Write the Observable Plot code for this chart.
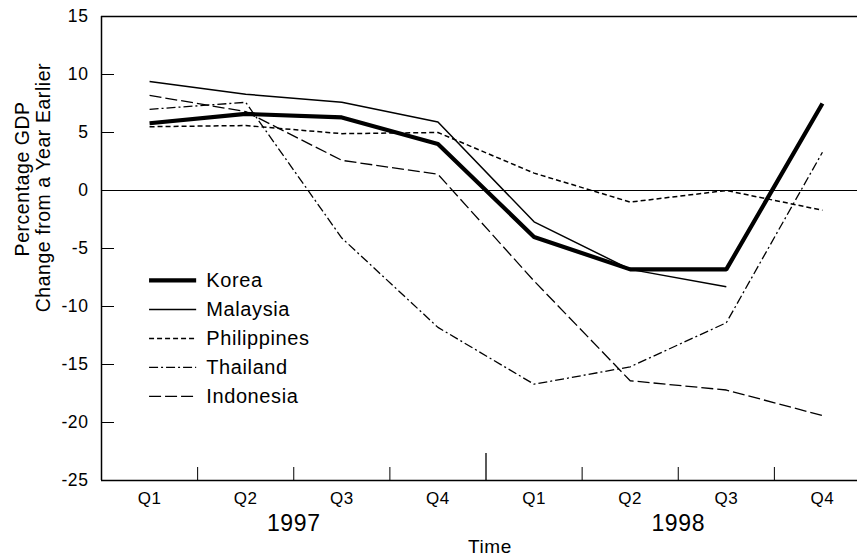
<!DOCTYPE html>
<html>
<head>
<meta charset="utf-8">
<script src="https://cdn.jsdelivr.net/npm/d3@7"></script>
<script src="https://cdn.jsdelivr.net/npm/@observablehq/plot@0.6"></script>
<style>
  html, body { margin: 0; padding: 0; background: #fff; overflow: hidden; }
  #chart svg { display: block; overflow: visible; }
  #chart text { letter-spacing: 0.6px; }
</style>
</head>
<body>
<div id="chart"></div>
<script>
// ---- data ----
const quarters = ["Q1", "Q2", "Q3", "Q4", "Q1", "Q2", "Q3", "Q4"];
const yearLabels = ["1997", "1998"];
const countries = ["Korea", "Malaysia", "Philippines", "Thailand", "Indonesia"];
const korea       = [5.8, 6.6, 6.3, 4.0, -4.0, -6.8, -6.8, 7.5];
const malaysia    = [9.4, 8.3, 7.6, 5.9, -2.7, -6.8, -8.3, null];
const philippines = [5.5, 5.6, 4.9, 5.0, 1.5, -1.0, 0.0, -1.7];
const thailand    = [7.0, 7.6, -4.1, -11.8, -16.7, -15.2, -11.4, 3.3];
const indonesia   = [8.2, 6.8, 2.6, 1.4, -7.8, -16.4, -17.2, -19.4];
const yTicks = [15, 10, 5, 0, -5, -10, -15, -20, -25];
const yTitleLines = ["Percentage GDP", "Change from a Year Earlier"];

const seriesValues = {Korea: korea, Malaysia: malaysia, Philippines: philippines, Thailand: thailand, Indonesia: indonesia};

// ---- styles ----
const styleOf = {
  Korea:       {strokeWidth: 4.2, strokeDasharray: null},
  Malaysia:    {strokeWidth: 1.5, strokeDasharray: null},
  Philippines: {strokeWidth: 1.5, strokeDasharray: "5,3"},
  Thailand:    {strokeWidth: 1.3, strokeDasharray: "9,3,2,3"},
  Indonesia:   {strokeWidth: 1.3, strokeDasharray: "12,4"}
};

// ---- layout ----
const W = 857, H = 559, ML = 101, MT = 16, MB = 79, MR = -13;
const plotW = W - ML - MR, plotH = H - MT - MB;

const rows = countries.flatMap(c => seriesValues[c].map((v, i) => ({country: c, t: i + 1, value: v})));
const qIdx = quarters.map((q, i) => i + 1);
const bounds = quarters.slice(1).map((q, i) => i + 1.5);
const yearBound = quarters.length / 2 + 0.5;
const innerY = yTicks.slice(1, -1).filter(v => v !== 0);

const legendY = -7.75, legendStep = 29;

const lineMarks = countries.slice().reverse().map(c =>
  Plot.line(rows.filter(r => r.country === c && r.value != null), {
    x: "t", y: "value", stroke: "black",
    strokeWidth: styleOf[c].strokeWidth,
    strokeDasharray: styleOf[c].strokeDasharray,
    strokeLinejoin: "miter", strokeLinecap: "butt"
  })
);

const legendMarks = countries.flatMap((c, i) => [
  Plot.ruleY([legendY], {
    x1: () => 1, x2: () => 1.49, dy: i * legendStep, stroke: "black",
    strokeWidth: styleOf[c].strokeWidth, strokeDasharray: styleOf[c].strokeDasharray
  }),
  Plot.text([c], {
    x: () => 1.59, y: () => legendY, dy: i * legendStep, text: d => d,
    textAnchor: "start", lineAnchor: "middle", fontSize: 20, fill: "black"
  })
]);

const titleMarks = [
  Plot.text([yTitleLines[0]], {
    frameAnchor: "left", y: () => 1.0, dx: -79, rotate: -90, text: d => d,
    textAnchor: "middle", lineAnchor: "middle", fontSize: 19.4, fill: "black"
  }),
  Plot.text([yTitleLines[1]], {
    frameAnchor: "left", y: () => 0.25, dx: -58, rotate: -90, text: d => d,
    textAnchor: "middle", lineAnchor: "middle", fontSize: 19.4, fill: "black"
  })
];

const chart = Plot.plot({
  width: W, height: H,
  marginLeft: ML, marginTop: MT, marginBottom: MB, marginRight: MR,
  style: {fontFamily: "'Liberation Sans', Arial, sans-serif", fontSize: "17px", color: "#000", background: "#fff"},
  x: {domain: [0.5, quarters.length + 0.5]},
  y: {domain: [-25, 15]},
  marks: [
    Plot.axisY(yTicks, {tickSize: 0, tickPadding: 13, fontSize: 17.5, label: null, tickFormat: d => String(d)}),
    Plot.axisX(qIdx, {tickSize: 0, tickPadding: 11, fontSize: 17, label: null, tickFormat: d => quarters[d - 1]}),
    Plot.tickY(innerY, {y: d => d, insetRight: plotW - 13, stroke: "black", strokeWidth: 1}),
    Plot.tickX(bounds.filter(b => b !== yearBound), {x: d => d, insetTop: plotH - 13, stroke: "black", strokeWidth: 1}),
    Plot.tickX([yearBound], {x: d => d, insetTop: plotH - 27, stroke: "black", strokeWidth: 1.3}),
    Plot.ruleY([0], {stroke: "black", strokeWidth: 1}),
    Plot.ruleY([15, -25], {stroke: "black", strokeWidth: 1.5}),
    Plot.ruleX([0.5], {stroke: "black", strokeWidth: 1.5}),
    ...lineMarks,
    ...legendMarks,
    Plot.text(yearLabels, {x: (d, i) => i * 4 + 2.5, y: () => -25, dy: 50, text: d => d, lineAnchor: "bottom", fontSize: 23, fill: "black"}),
    Plot.text(["Time"], {x: () => yearBound, y: () => -25, dy: 72, dx: 4, text: d => d, lineAnchor: "bottom", fontSize: 19, fill: "black"}),
    ...titleMarks
  ]
});
document.getElementById("chart").appendChild(chart);
</script>
</body>
</html>
